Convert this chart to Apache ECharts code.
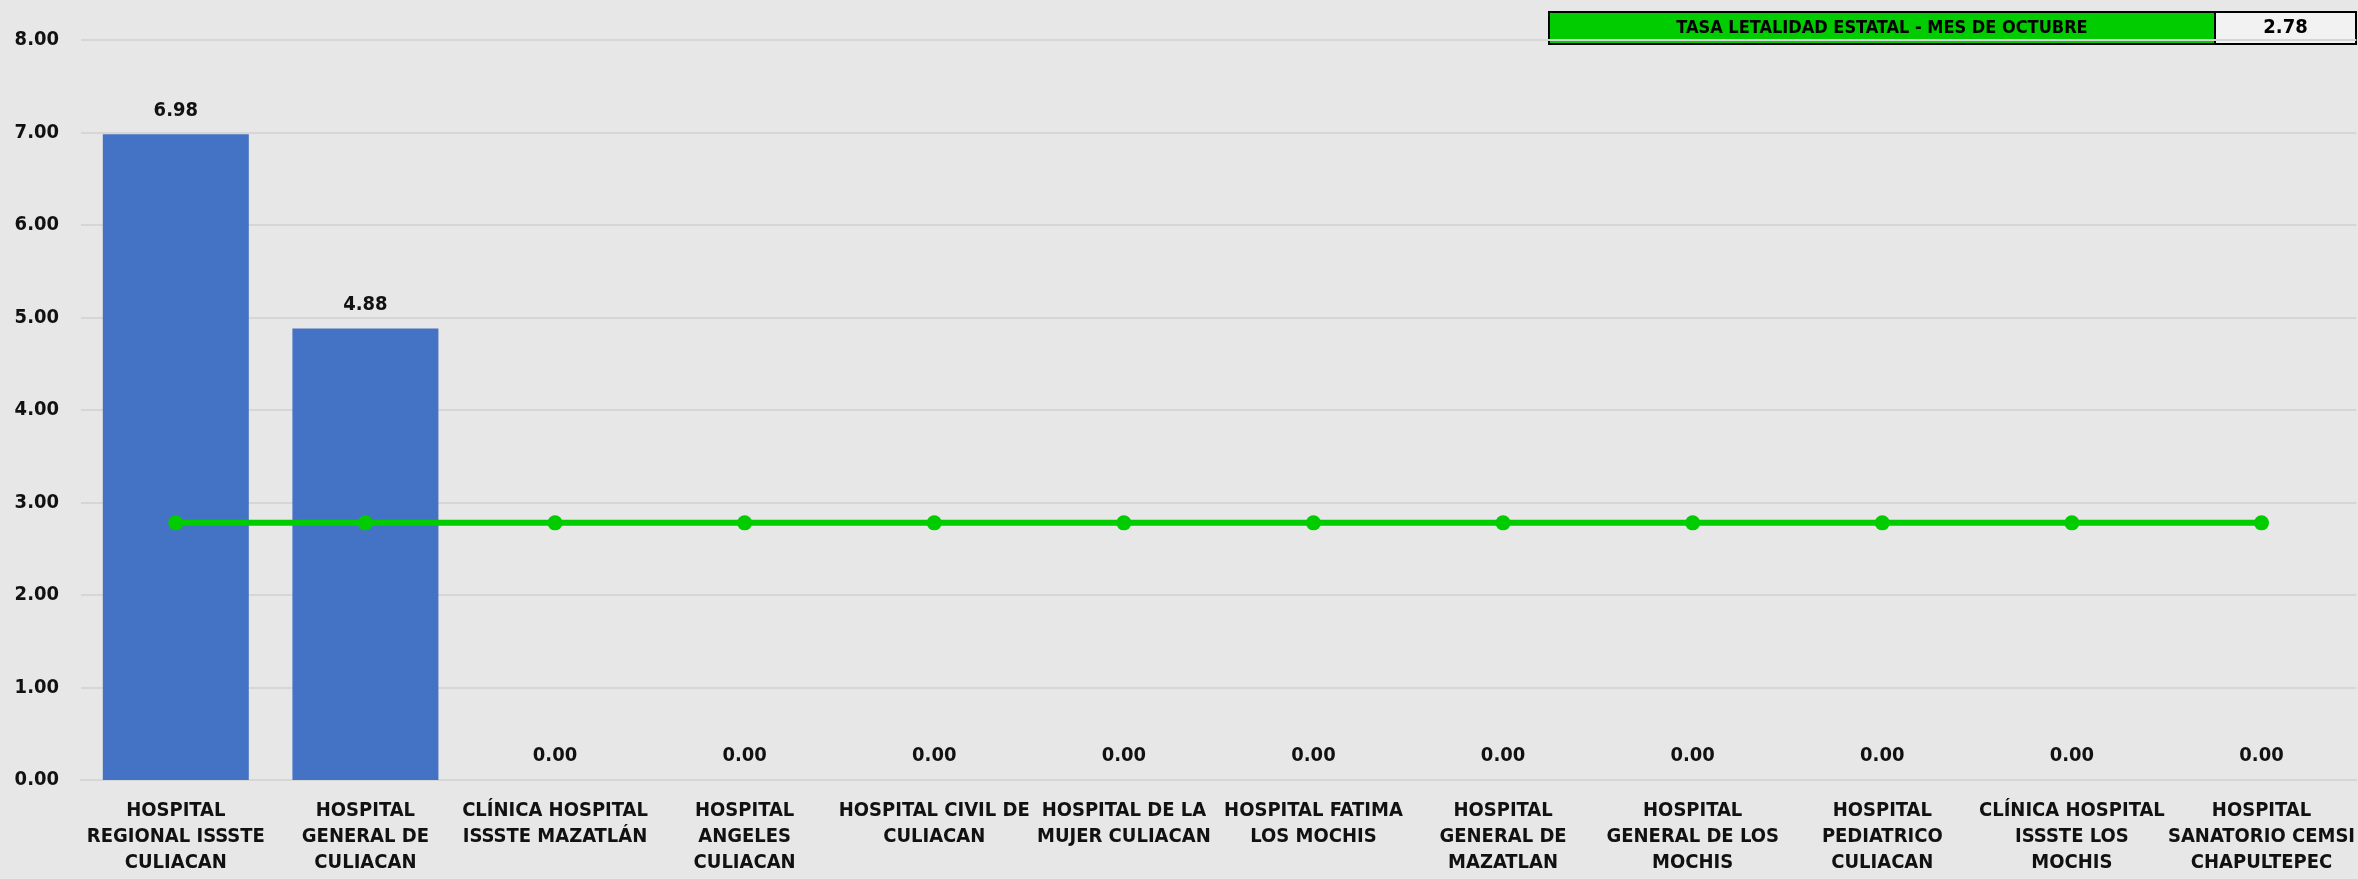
<!DOCTYPE html>
<html>
<head>
<meta charset="utf-8">
<script src="https://cdn.jsdelivr.net/npm/echarts/dist/echarts.min.js"></script>
<style>
  html, body { margin: 0; padding: 0; background: #e7e7e7; }
  #chart { width: 2358px; height: 879px; }
</style>
</head>
<body>
<div id="chart"></div>
<script>
const categories = [
  'HOSPITAL\nREGIONAL ISSSTE\nCULIACAN',
  'HOSPITAL\nGENERAL DE\nCULIACAN',
  'CLÍNICA HOSPITAL\nISSSTE MAZATLÁN',
  'HOSPITAL\nANGELES\nCULIACAN',
  'HOSPITAL CIVIL DE\nCULIACAN',
  'HOSPITAL DE LA\nMUJER CULIACAN',
  'HOSPITAL FATIMA\nLOS MOCHIS',
  'HOSPITAL\nGENERAL DE\nMAZATLAN',
  'HOSPITAL\nGENERAL DE LOS\nMOCHIS',
  'HOSPITAL\nPEDIATRICO\nCULIACAN',
  'CLÍNICA HOSPITAL\nISSSTE LOS\nMOCHIS',
  'HOSPITAL\nSANATORIO CEMSI\nCHAPULTEPEC'
]
const tasaHospital = [6.98, 4.88, 0, 0, 0, 0, 0, 0, 0, 0, 0, 0]
const tasaEstatal = [2.78, 2.78, 2.78, 2.78, 2.78, 2.78, 2.78, 2.78, 2.78, 2.78, 2.78, 2.78]
const tituloEstatal = 'TASA LETALIDAD ESTATAL - MES DE OCTUBRE'
const valorEstatal = '2.78'
const yTicks = { min: 0, max: 8, interval: 1 }

const font = '"Liberation Sans Narrow", "DejaVu Sans Condensed", sans-serif'
const chart = echarts.init(document.getElementById('chart'))

// caja con texto centrado (leyenda de la tasa estatal)
function caja(x, w, fill, text, size) {
  return {
    type: 'rect',
    x: x, y: 12,
    shape: { x: 0, y: 0, width: w, height: 32 },
    style: { fill: fill, stroke: '#000', lineWidth: 2 },
    textContent: {
      style: { text: text, fill: '#000', font: 'bold ' + size + 'px ' + font }
    },
    textConfig: { position: 'inside' }
  }
}

const option = {
  backgroundColor: '#e7e7e7',
  animation: false,
  textStyle: { fontFamily: font },
  grid: { left: 81, right: 1, top: 40, bottom: 99, containLabel: false },
  xAxis: {
    type: 'category',
    data: categories,
    axisTick: { show: false },
    axisLine: { lineStyle: { color: '#d6d6d6', width: 2 } },
    axisLabel: {
      interval: 0,
      margin: 18,
      color: '#111',
      fontWeight: 'bold',
      fontSize: 20,
      lineHeight: 26,
      fontFamily: font
    }
  },
  yAxis: {
    type: 'value',
    min: yTicks.min,
    max: yTicks.max,
    interval: yTicks.interval,
    axisLine: { show: false },
    axisTick: { show: false },
    splitLine: { lineStyle: { color: '#d6d6d6', width: 2 } },
    axisLabel: {
      color: '#111',
      fontWeight: 'bold',
      fontSize: 20,
      margin: 22,
      fontFamily: font,
      formatter: v => v.toFixed(2)
    }
  },
  series: [
    {
      name: 'Tasa hospital',
      type: 'bar',
      data: tasaHospital,
      barCategoryGap: '23%',
      itemStyle: { color: '#4472c4' },
      label: {
        show: true,
        position: 'top',
        distance: 14,
        color: '#111',
        fontWeight: 'bold',
        fontSize: 20,
        fontFamily: font,
        formatter: p => p.value.toFixed(2)
      }
    },
    {
      name: 'Tasa estatal',
      type: 'line',
      data: tasaEstatal,
      symbol: 'circle',
      symbolSize: 15,
      lineStyle: { color: '#00cc00', width: 6 },
      itemStyle: { color: '#00cc00' }
    }
  ],
  graphic: [
    caja(1549, 666, '#00cc00', tituloEstatal, 18),
    caja(2215, 141, '#f2f2f2', valorEstatal, 20)
  ]
}
chart.setOption(option)
</script>
</body>
</html>
